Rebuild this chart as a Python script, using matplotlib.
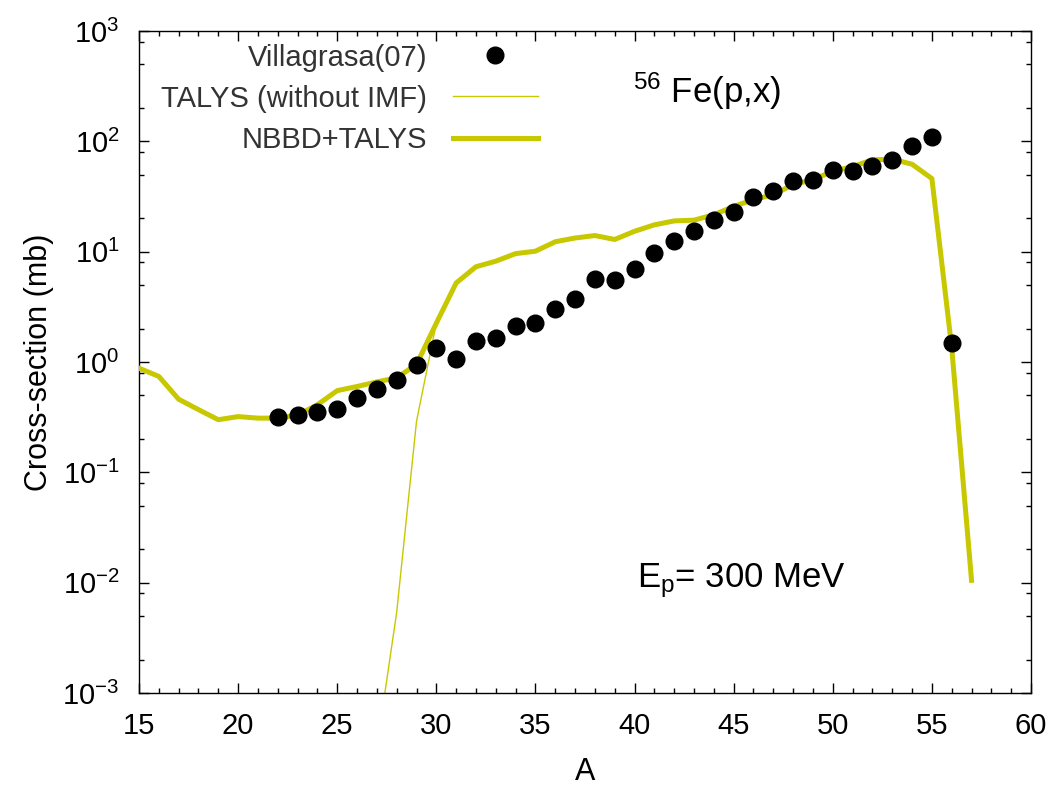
import matplotlib
matplotlib.use("Agg")
import matplotlib.pyplot as plt
from matplotlib.ticker import LogLocator, MultipleLocator, LogFormatterSciNotation, NullFormatter

plt.rcParams['font.family'] = ['Liberation Sans', 'DejaVu Sans']
plt.rcParams['mathtext.fontset'] = 'custom'
plt.rcParams['mathtext.rm'] = 'Liberation Sans'
plt.rcParams['mathtext.it'] = 'Liberation Sans:italic'
plt.rcParams['mathtext.default'] = 'regular'

# NBBD+TALYS (thick line)
A_nbbd = list(range(15, 58))
xs_nbbd = [0.88, 0.74, 0.46, 0.37, 0.30, 0.32, 0.31, 0.31, 0.33, 0.41,
           0.55, 0.60, 0.66, 0.72, 0.95, 2.25, 5.2, 7.3, 8.2, 9.6,
           10.1, 12.3, 13.3, 14.0, 12.9, 15.3, 17.5, 19.0, 19.3, 21.6,
           25.7, 29.6, 32.9, 40.5, 45.0, 53.5, 59.0, 68.0, 69.0, 62.0,
           46.0, 1.35, 0.0105]

# TALYS without IMF (thin line)
A_talys = list(range(26, 58))
xs_talys = [1.0e-5, 3.2e-4, 5.4e-3, 0.29, 2.25, 5.2, 7.3, 8.2, 9.6,
            10.1, 12.3, 13.3, 14.0, 12.9, 15.3, 17.5, 19.0, 19.3, 21.6,
            25.7, 29.6, 32.9, 40.5, 45.0, 53.5, 59.0, 68.0, 69.0, 62.0,
            46.0, 1.35, 0.0105]

# Villagrasa(07) data
A_exp = list(range(22, 57))
xs_exp = [0.317, 0.333, 0.349, 0.375, 0.47, 0.57, 0.68, 0.94, 1.33, 1.07,
          1.54, 1.65, 2.10, 2.28, 3.02, 3.72, 5.69, 5.50, 6.90, 9.7,
          12.5, 15.5, 19.2, 22.9, 31.3, 35.2, 43.4, 45.0, 55.4, 53.5,
          59.3, 68.2, 91.4, 109.6, 1.49]

col = '#c8c800'

fig = plt.figure(figsize=(10.52, 7.94), dpi=100)
ax = fig.add_axes([139/1052, 1-693/794, (1031-139)/1052, (693-31)/794])

ax.plot(A_talys, xs_talys, color=col, lw=1.0, label='TALYS (without IMF)', zorder=2)
ax.plot(A_nbbd, xs_nbbd, color=col, lw=3.6, label='NBBD+TALYS', zorder=3)
ax.plot(A_exp, xs_exp, linestyle='none', marker='o', color='black', markersize=12,
        label='Villagrasa(07)', zorder=4)

ax.set_yscale('log')
ax.set_xlim(15, 60)
ax.set_ylim(1e-3, 1e3)

ax.xaxis.set_major_locator(MultipleLocator(5))
ax.xaxis.set_minor_locator(MultipleLocator(1))
ax.yaxis.set_major_locator(LogLocator(base=10, numticks=20))
ax.yaxis.set_minor_locator(LogLocator(base=10, subs=[2, 5, 8], numticks=20))
ax.yaxis.set_major_formatter(LogFormatterSciNotation())
ax.yaxis.set_minor_formatter(NullFormatter())
ax.xaxis.get_offset_text().set_visible(False)
ax.yaxis.get_offset_text().set_visible(False)

ax.tick_params(which='both', direction='in', top=True, right=True, width=1.0, labelsize=21)
ax.tick_params(which='major', length=7)
ax.tick_params(which='minor', length=3.5)
ax.tick_params(axis='x', pad=14)
ax.tick_params(axis='y', pad=14)
for s in ax.spines.values():
    s.set_linewidth(1.0)

ax.set_xlabel('A', fontsize=22, labelpad=12)
ax.set_ylabel('Cross-section (mb)', fontsize=22, labelpad=6)

handles, labels = ax.get_legend_handles_labels()
order = [2, 0, 1]
leg = ax.legend([handles[i] for i in order], [labels[i] for i in order],
                loc='upper right', bbox_to_anchor=(0.447, 0.981), frameon=False,
                markerfirst=False, fontsize=21, handlelength=2.9, handletextpad=0.9,
                labelspacing=0.45, borderpad=0, borderaxespad=0, numpoints=1)
for t in leg.get_texts():
    t.set_color('#333333')

ax.text(0.554, 0.891, r'$^{56}$ Fe(p,x)', transform=ax.transAxes, fontsize=25,
        ha='left', va='baseline')
ax.text(0.558, 0.159, r'E$_{p}$= 300 MeV', transform=ax.transAxes, fontsize=25,
        ha='left', va='baseline')

fig.savefig('out.png', dpi=100)
